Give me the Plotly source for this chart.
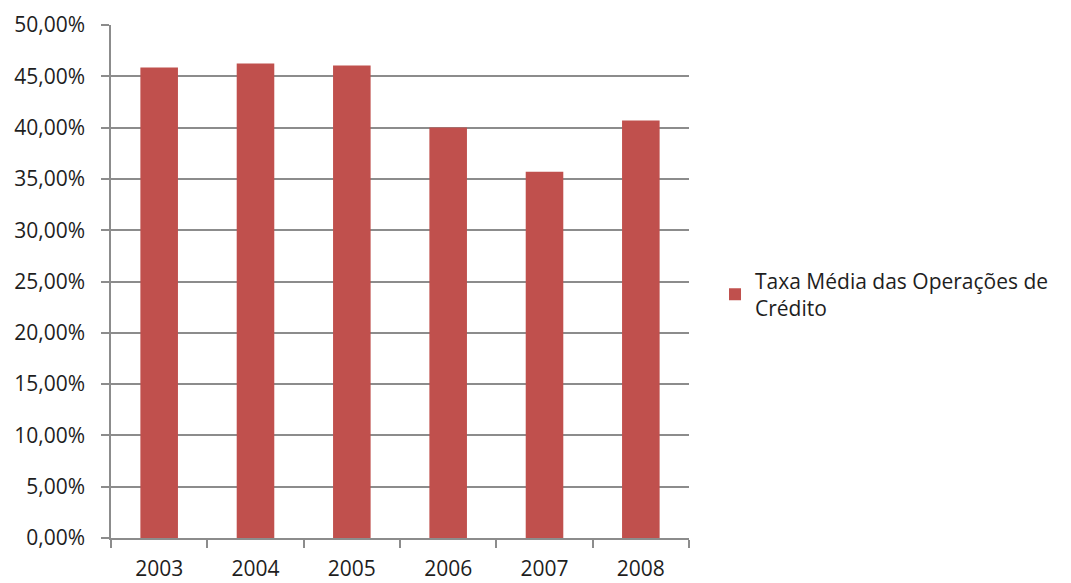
import plotly.graph_objects as go

# Average rate of credit operations, by year
years = ["2003", "2004", "2005", "2006", "2007", "2008"]
rates = [0.4585, 0.4625, 0.4605, 0.4000, 0.3570, 0.4070]
series_name = "Taxa Média das Operações de<br>Crédito"

grid_color = "#8c8c8c"
font_family = "Open Sans, Noto Sans, sans-serif"

fig = go.Figure(
    go.Bar(
        x=years,
        y=rates,
        name=series_name,
        marker=dict(color="#C0504D", line=dict(width=0)),
        showlegend=True,
    )
)

fig.update_layout(
    width=1071,
    height=583,
    margin=dict(l=111, r=382, t=25, b=45),
    paper_bgcolor="white",
    plot_bgcolor="white",
    separators=",.",
    bargap=0.61,
    font=dict(family=font_family, size=21, color="#1e1e1e"),
    legend=dict(
        x=1.045,
        y=0.475,
        xanchor="left",
        yanchor="middle",
        font=dict(family=font_family, size=21, color="#1e1e1e"),
        bgcolor="rgba(0,0,0,0)",
        itemwidth=30,
    ),
)

fig.update_yaxes(
    range=[0, 0.5],
    dtick=0.05,
    tickformat=".2%",
    showgrid=True,
    gridcolor=grid_color,
    gridwidth=1.5,
    showline=True,
    linecolor=grid_color,
    linewidth=1.5,
    ticks="outside",
    ticklen=8,
    tickcolor=grid_color,
    tickwidth=1.5,
    ticklabelstandoff=12,
    zeroline=False,
    automargin=False,
    fixedrange=True,
)

fig.update_xaxes(
    type="category",
    showgrid=False,
    showline=True,
    linecolor=grid_color,
    linewidth=1.5,
    ticks="outside",
    tickson="boundaries",
    ticklen=8,
    tickcolor=grid_color,
    tickwidth=1.5,
    ticklabelstandoff=11,
    automargin=False,
    fixedrange=True,
)

fig.write_html("out.html")
